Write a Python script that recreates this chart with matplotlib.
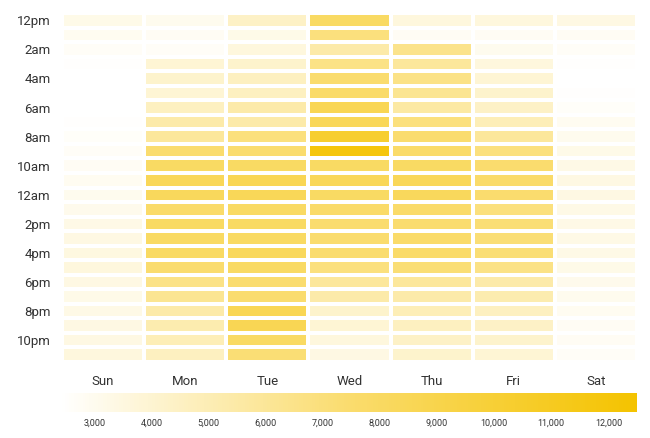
import numpy as np
import matplotlib
matplotlib.use("Agg")
import matplotlib.pyplot as plt
from matplotlib.colors import LinearSegmentedColormap, Normalize

plt.rcParams['font.family'] = ['Roboto', 'DejaVu Sans']

# Data: one list per weekday, 24 hourly values
days = ["Sun", "Mon", "Tue", "Wed", "Thu", "Fri", "Sat"]
hour_labels = ["12pm", "2am", "4am", "6am", "8am", "10am",
               "12am", "2pm", "4pm", "6pm", "8pm", "10pm"]

sun = [3200, 2900, 2700, 2500, 2400, 2400, 2400, 2500, 2600, 2700, 2800, 2900,
       3000, 3100, 3300, 3400, 3500, 3600, 3400, 3200, 3300, 3400, 3400, 3600]
mon = [3000, 2800, 2700, 3900, 4200, 3900, 4600, 5400, 5900, 7450, 7950, 8450,
       8250, 7650, 7950, 7950, 7950, 7450, 6600, 6200, 5400, 5200, 4900, 4600]
tue = [4400, 3200, 3600, 4200, 4600, 4600, 5400, 5400, 6900, 7450, 7950, 8650,
       8450, 7950, 7950, 7950, 8250, 7950, 7450, 7450, 8650, 8650, 7950, 7200]
wed = [7950, 6900, 5400, 6600, 7450, 7650, 8650, 8450, 10300, 11900, 7950, 8450,
       7950, 7650, 7450, 7450, 7450, 6900, 5900, 5400, 4200, 3900, 3600, 3400]
thu = [3600, 2800, 6400, 5900, 6600, 6200, 5600, 6900, 7450, 7650, 7950, 8450,
       8250, 7650, 7450, 7650, 7650, 7200, 5900, 5400, 4900, 4600, 4400, 4200]
fri = [3600, 2800, 3000, 3600, 3900, 4200, 4400, 4900, 5900, 6900, 7450, 7650,
       7450, 6900, 7200, 7200, 7200, 6600, 5400, 5200, 4600, 4400, 4200, 3900]
sat = [3400, 2800, 2700, 2500, 2400, 2500, 2600, 2900, 3000, 3200, 3300, 3400,
       3400, 3300, 3300, 3300, 3300, 3200, 3100, 3000, 2900, 2800, 2800, 2700]

cbar_ticks = [3000, 4000, 5000, 6000, 7000, 8000, 9000, 10000, 11000, 12000]
vmin, vmax = 2400, 12500
cmap_colors = ["#ffffff", "#fadc6e", "#f4c300"]

grid = np.array([sun, mon, tue, wed, thu, fri, sat]).T  # rows = hours

cmap = LinearSegmentedColormap.from_list("gold", cmap_colors)
norm = Normalize(vmin=vmin, vmax=vmax)

fig = plt.figure(figsize=(6.5, 4.38), dpi=100)
ax = fig.add_axes([0.0954, 0.1735, 0.8846, 0.7968])

mesh = ax.pcolormesh(np.arange(8), np.arange(25), grid, cmap=cmap, norm=norm,
                     edgecolors="white", linewidth=1.5)
ax.set_xlim(0, 7)
ax.set_ylim(24, 0)
ax.set_xticks(np.arange(7) + 0.5)
ax.set_xticklabels(days)
ax.set_yticks(np.arange(0, 24, 2) + 0.5)
ax.set_yticklabels(hour_labels)
ax.tick_params(length=0, labelsize=9.5, labelcolor="#333333")
ax.tick_params(axis="x", pad=9)
ax.tick_params(axis="y", pad=8)
for s in ax.spines.values():
    s.set_visible(False)

# Colorbar along the bottom
cax = fig.add_axes([0.0923, 0.0594, 0.8877, 0.0434])
cb = fig.colorbar(mesh, cax=cax, orientation="horizontal", ticks=cbar_ticks)
cb.outline.set_visible(False)
cb.ax.set_xticklabels([f"{t:,}" for t in cbar_ticks])
cb.ax.tick_params(length=0, labelsize=6.5, labelcolor="#333333", pad=5)

fig.savefig("out.png", dpi=100)
